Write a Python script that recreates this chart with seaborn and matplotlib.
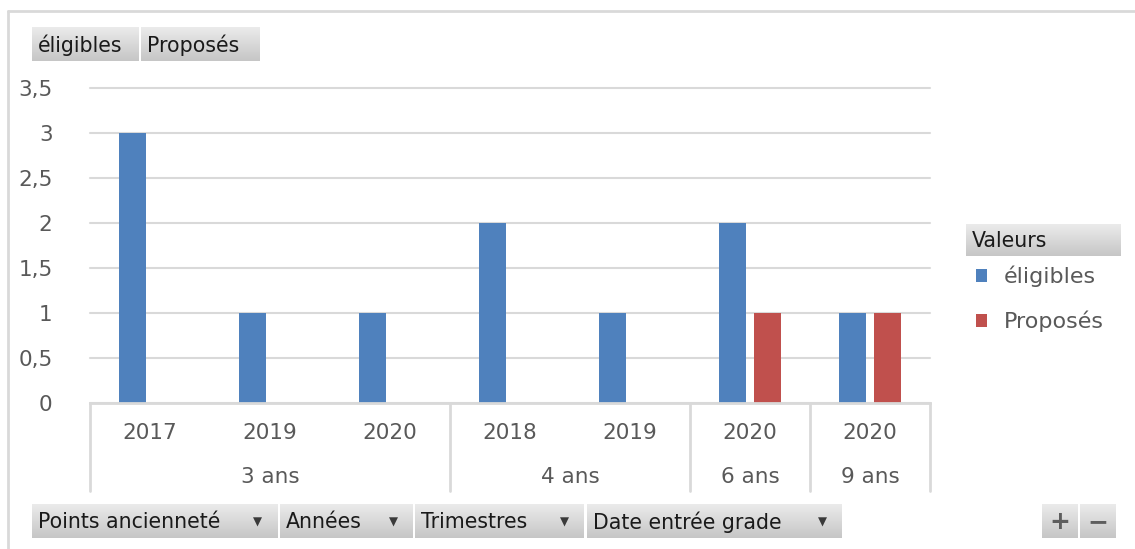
import numpy as np
import pandas as pd
import seaborn as sns
import matplotlib.pyplot as plt
import matplotlib.transforms as mtransforms
from matplotlib.colors import LinearSegmentedColormap

# Données du tableau croisé
groupes = ["3 ans", "3 ans", "3 ans", "4 ans", "4 ans", "6 ans", "9 ans"]
annees = ["2017", "2019", "2020", "2018", "2019", "2020", "2020"]
eligibles = [3, 1, 1, 2, 1, 2, 1]
proposes = [np.nan, np.nan, np.nan, np.nan, np.nan, 1, 1]
series = ["éligibles", "Proposés"]
couleurs = ["#4F81BD", "#C0504D"]
boutons_haut = ["éligibles", "Proposés"]
boutons_bas = ["Points ancienneté", "Années", "Trimestres", "Date entrée grade"]

cles = [f"{g} {a}" for g, a in zip(groupes, annees)]
dat = pd.DataFrame({
    "cle": cles * 2,
    "serie": [series[0]] * len(cles) + [series[1]] * len(cles),
    "valeur": eligibles + proposes,
}).dropna()

sns.set_theme(style="white")
plt.rcParams['font.family'] = ['DejaVu Sans']

W, H = 1135, 549
fig = plt.figure(figsize=(W / 100, H / 100), dpi=100)

# fond / décor (coordonnées pixel)
bg = fig.add_axes([0, 0, 1, 1], zorder=0)
bg.axis('off')
grad = LinearSegmentedColormap.from_list("btn", ["#EBEBEB", "#C6C6C6"])


def bouton(x0, y0, x1, y1, texte=None, fleche=None, size=14.8, color='#1A1A1A', ha='left', weight='normal'):
    bg.imshow(np.linspace(0, 1, 40).reshape(-1, 1), cmap=grad, extent=(x0, x1, y1, y0),
              aspect='auto', origin='upper', zorder=1)
    if texte is not None:
        tx = x0 + 6 if ha == 'left' else (x0 + x1) / 2
        bg.text(tx, (y0 + y1) / 2 + 1, texte, ha=ha, va='center', fontsize=size, color=color,
                weight=weight, zorder=2)
    if fleche is not None:
        bg.text(fleche, (y0 + y1) / 2 + 1, "▼", ha='center', va='center', fontsize=8.5, color='#3A3A3A', zorder=2)


# boutons du haut
bouton(32, 27, 139, 61, boutons_haut[0])
bouton(141, 27, 260, 61, boutons_haut[1])
# boutons du bas
bouton(32, 504, 278, 538, boutons_bas[0], fleche=257)
bouton(280, 504, 413, 538, boutons_bas[1], fleche=393)
bouton(415, 504, 584, 538, boutons_bas[2], fleche=564)
bouton(587, 504, 842, 538, boutons_bas[3], fleche=822)
bouton(1042, 504, 1078, 538, "+", size=18, color='#5E5E5E', ha='center', weight='bold')
bouton(1080, 504, 1116, 538, "−", size=18, color='#5E5E5E', ha='center', weight='bold')
# titre légende
bouton(966, 224, 1121, 256, "Valeurs")
# cadre
bg.plot([8, W], [11, 11], color='#D9D9D9', lw=2, zorder=1)
bg.plot([8, 8], [11, H], color='#D9D9D9', lw=2, zorder=1)
bg.set_xlim(0, W)
bg.set_ylim(H, 0)

# graphique
ax = fig.add_axes([90 / W, 1 - 403 / H, 840 / W, 315 / H], zorder=2)
ax.patch.set_alpha(0)
sns.barplot(data=dat, x="cle", y="valeur", hue="serie", order=cles, hue_order=series,
            palette=couleurs, saturation=1, width=0.58, gap=0.21, linewidth=0, ax=ax)
ax.set_xlim(-0.5, len(cles) - 0.5)
ax.set_ylim(0, 3.5)
ticks = np.arange(0, 3.51, 0.5)
ax.set_yticks(ticks)
ax.set_yticklabels([f"{t:g}".replace('.', ',') for t in ticks])
ax.yaxis.grid(True, color='#D9D9D9', lw=1.5)
for gl in ax.get_ygridlines():
    gl.set_clip_on(False)
ax.set_axisbelow(True)
for s in ['top', 'right', 'left']:
    ax.spines[s].set_visible(False)
ax.spines['bottom'].set_color('#D9D9D9')
ax.spines['bottom'].set_linewidth(2)
ax.tick_params(axis='y', length=0, pad=27, labelsize=15.5, labelcolor='#595959')
ax.tick_params(axis='x', length=0, labelbottom=False)
ax.set_xlabel('')
ax.set_ylabel('')

# étiquettes à deux niveaux
trans = mtransforms.blended_transform_factory(ax.transData, ax.transAxes)
for i, a in enumerate(annees):
    ax.text(i, -0.095, a, transform=trans, ha='center', va='center', fontsize=15.5, color='#595959')
bornes = [-0.5]
debut = 0
for i in range(1, len(groupes) + 1):
    if i == len(groupes) or groupes[i] != groupes[debut]:
        ax.text((debut + i - 1) / 2, -0.235, groupes[debut], transform=trans, ha='center',
                va='center', fontsize=15.5, color='#595959')
        bornes.append(i - 0.5)
        debut = i
for b in bornes:
    ax.plot([b, b], [0, -0.279], transform=trans, color='#D9D9D9', lw=2, clip_on=False)

# légende
handles, labels = ax.get_legend_handles_labels()
ax.legend(handles, labels, loc='upper left', bbox_to_anchor=(976 / W, 1 - 266 / H),
          bbox_transform=fig.transFigure, frameon=False, fontsize=16, labelcolor='#595959',
          handlelength=0.5, handleheight=0.5, handletextpad=0.75, labelspacing=1.05,
          borderaxespad=0, borderpad=0)

fig.savefig('out.png', dpi=100)
